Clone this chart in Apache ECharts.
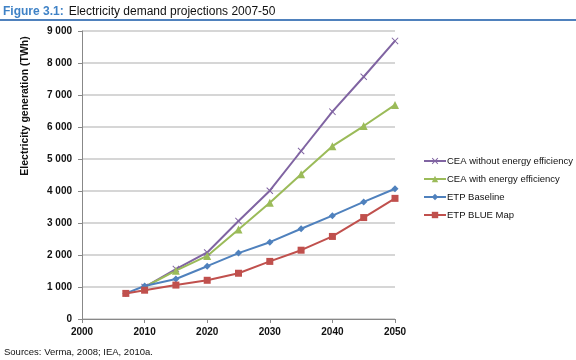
<!DOCTYPE html>
<html>
<head>
<meta charset="utf-8">
<script src="https://cdn.jsdelivr.net/npm/echarts@6/dist/echarts.min.js"></script>
<style>
html,body{margin:0;padding:0;background:#fff;}
#c{width:576px;height:360px;}
</style>
</head>
<body>
<div id="c"></div>
<script>
var years = [2007, 2010, 2015, 2020, 2025, 2030, 2035, 2040, 2045, 2050];
var ceaWithout = [null, 1000, 1560, 2080, 3060, 4010, 5250, 6480, 7570, 8690];
var ceaWith = [null, 1000, 1510, 1970, 2800, 3630, 4520, 5400, 6030, 6690];
var etpBaseline = [800, 1030, 1250, 1650, 2060, 2400, 2820, 3230, 3660, 4070];
var etpBlue = [800, 900, 1060, 1210, 1430, 1800, 2150, 2580, 3170, 3770];
var seriesNames = ['CEA without energy efficiency', 'CEA with energy efficiency', 'ETP Baseline', 'ETP BLUE Map'];
var xTicks = [2000, 2010, 2020, 2030, 2040, 2050];
var yTicks = [0, 1000, 2000, 3000, 4000, 5000, 6000, 7000, 8000, 9000];

function pairs(vals) {
  var out = [];
  for (var i = 0; i < years.length; i++) {
    if (vals[i] !== null) out.push([years[i], vals[i]]);
  }
  return out;
}
function fmt(v) {
  var s = String(Math.round(v));
  return s.length > 3 ? s.slice(0, s.length - 3) + ' ' + s.slice(-3) : s;
}
var FONT = 'Liberation Sans';
var chart = echarts.init(document.getElementById('c'), null, {renderer: 'canvas'});
var xSym = 'path://M0,1 L1,0 L5,4 L9,0 L10,1 L6,5 L10,9 L9,10 L5,6 L1,10 L0,9 L4,5 Z';
chart.setOption({
  animation: false,
  backgroundColor: '#fff',
  title: [{
    text: '{b|Figure 3.1:} {n|Electricity demand projections 2007-50}',
    left: 3, top: 3, padding: 0,
    textStyle: {
      fontFamily: FONT, fontWeight: 'normal',
      rich: {
        b: {fontFamily: FONT, fontSize: 12, fontWeight: 'bold', color: '#3f82c6'},
        n: {fontFamily: FONT, fontSize: 12, fontWeight: 'normal', color: '#111'}
      }
    }
  }, {
    text: 'Sources: Verma, 2008; IEA, 2010a.',
    left: 4, top: 347, padding: 0,
    textStyle: {fontFamily: FONT, fontSize: 9.5, fontWeight: 'normal', color: '#111'}
  }],
  graphic: [{
    type: 'rect', shape: {x: 0, y: 19, width: 576, height: 2},
    style: {fill: '#4f81bd'}
  }, {
    type: 'text', x: 25, y: 106, rotation: Math.PI / 2,
    style: {
      text: 'Electricity generation (TWh)', fontFamily: FONT, fontSize: 10.5, fontWeight: 'bold',
      fill: '#111', align: 'center', verticalAlign: 'middle'
    }
  }],
  grid: {left: 82, right: 181, top: 31, bottom: 41},
  legend: {
    orient: 'vertical', left: 418, top: 151,
    itemWidth: 22, itemHeight: 8, itemGap: 8,
    textStyle: {fontFamily: FONT, fontSize: 9.5, color: '#111', padding: [0, 0, 0, -4]},
    data: seriesNames
  },
  xAxis: {
    type: 'value', min: 2000, max: 2050, interval: 10,
    axisLine: {show: true, lineStyle: {color: '#888', width: 1}},
    axisTick: {show: true, length: 4, lineStyle: {color: '#888'}},
    splitLine: {show: false},
    axisLabel: {fontFamily: FONT, fontSize: 10, fontWeight: 'bold', color: '#111', margin: 8,
      formatter: function (v) { return String(v); }}
  },
  yAxis: {
    type: 'value', min: 0, max: 9000, interval: 1000,
    axisLine: {show: true, lineStyle: {color: '#888', width: 1}},
    axisTick: {show: true, length: 4, lineStyle: {color: '#888'}},
    splitLine: {show: true, lineStyle: {color: '#c8c8c8', width: 1.5}},
    axisLabel: {fontFamily: FONT, fontSize: 10, fontWeight: 'bold', color: '#111', margin: 10, formatter: fmt}
  },
  series: [{
    name: seriesNames[0], type: 'line', data: pairs(ceaWithout),
    symbol: xSym, symbolSize: 7,
    lineStyle: {color: '#8064a2', width: 2}, itemStyle: {color: '#8064a2'}
  }, {
    name: seriesNames[1], type: 'line', data: pairs(ceaWith),
    symbol: 'triangle', symbolSize: 8,
    lineStyle: {color: '#9bbb59', width: 2}, itemStyle: {color: '#9bbb59'}
  }, {
    name: seriesNames[2], type: 'line', data: pairs(etpBaseline),
    symbol: 'diamond', symbolSize: 7,
    lineStyle: {color: '#4f81bd', width: 2}, itemStyle: {color: '#4f81bd'}
  }, {
    name: seriesNames[3], type: 'line', data: pairs(etpBlue),
    symbol: 'rect', symbolSize: 7,
    lineStyle: {color: '#c0504d', width: 2}, itemStyle: {color: '#c0504d'}
  }]
});
</script>
</body>
</html>
